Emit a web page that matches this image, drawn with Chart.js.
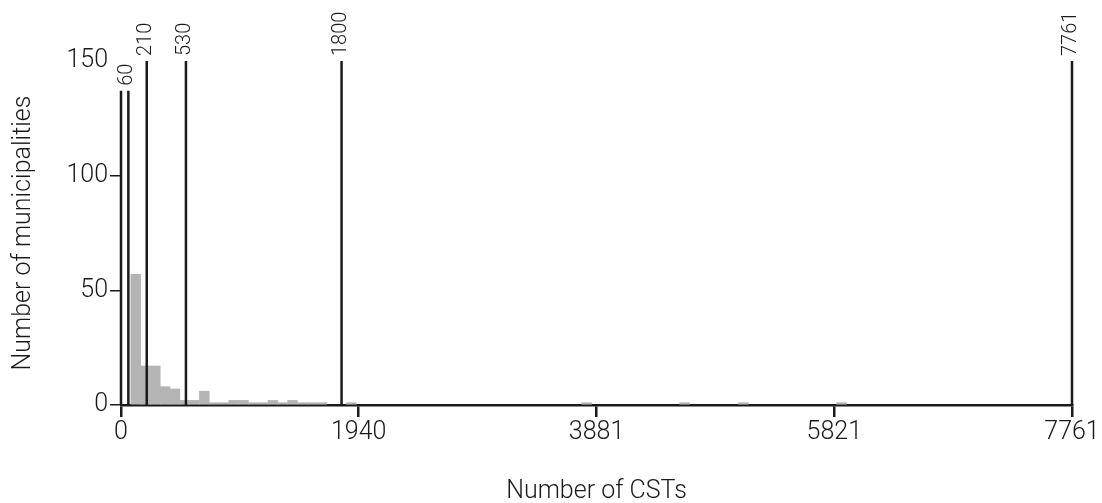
<!DOCTYPE html>
<html>
<head>
<meta charset="utf-8">
<script src="https://cdn.jsdelivr.net/npm/chart.js@4/dist/chart.umd.min.js"></script>
<style>
  body { margin: 0; background: #fff; }
  #wrap { width: 1102px; height: 503px; }
</style>
</head>
<body>
<div id="wrap"><canvas id="c"></canvas></div>
<script>
// histogram bins (left edge of each 80-wide bin) and counts
const binWidth = 80;
const binStarts = [80, 160, 240, 320, 400, 480, 560, 640, 720, 800, 880, 960, 1040, 1120, 1200, 1280, 1360, 1440, 1520, 1600, 1840, 3760, 4560, 5040, 5840];
const binCounts = [57, 17, 17, 8, 7, 2, 2, 6, 1, 1, 2, 2, 1, 1, 2, 1, 2, 1, 1, 1, 1, 1, 1, 1, 1];

// threshold lines
const markerValues = [0, 60, 210, 530, 1800, 7761];
const markerHeights = [137, 137, 150, 150, 150, 150];
const markerLabels = ['', '60', '210', '530', '1800', '7761'];

const xTicks = [0, 1940, 3881, 5821, 7761];
const yTicks = [0, 50, 100, 150];

const ink = '#1a1a1a';
const font = 'Roboto, "Liberation Sans", sans-serif';

const bars = binStarts.map((s, i) => ({ x: s + binWidth / 2, y: binCounts[i] }));

const lineSets = markerValues.map((v, i) => ({
	type: 'line',
	data: [{ x: v, y: 0 }, { x: v, y: markerHeights[i] }],
	borderColor: ink,
	borderWidth: 2.5,
	pointRadius: 0,
	clip: false,
	order: 1,
}));

const markerText = {
	id: 'markerText',
	afterDatasetsDraw(chart) {
		const ctx = chart.ctx, xs = chart.scales.x, ys = chart.scales.y;
		ctx.save();
		ctx.fillStyle = ink;
		ctx.font = `300 20px ${font}`;
		ctx.textAlign = 'left';
		ctx.textBaseline = 'middle';
		markerValues.forEach((v, i) => {
			if (!markerLabels[i]) return;
			const px = xs.getPixelForValue(v);
			const py = ys.getPixelForValue(markerHeights[i]);
			ctx.save();
			ctx.translate(px - 1, py - 5);
			ctx.rotate(-Math.PI / 2);
			ctx.fillText(markerLabels[i], 0, 0);
			ctx.restore();
		});
		ctx.restore();
	}
};

window.onload = function() {
	new Chart(document.getElementById('c'), {
		type: 'bar',
		data: {
			datasets: [{
				type: 'bar',
				data: bars,
				backgroundColor: '#b4b4b4',
				barPercentage: 1,
				categoryPercentage: 1,
				order: 2,
			}].concat(lineSets),
		},
		options: {
			responsive: true,
			maintainAspectRatio: false,
			animation: false,
			layout: { padding: { top: 61, right: 30, left: 0, bottom: 0 } },
			plugins: { legend: { display: false }, tooltip: { enabled: false } },
			scales: {
				x: {
					type: 'linear',
					min: 0,
					max: 7761,
					offset: false,
					afterBuildTicks: s => { s.ticks = xTicks.map(v => ({ value: v })); },
					afterFit: s => { s.height = 98; },
					ticks: {
						color: ink,
						font: { family: font, size: 25, weight: 300 },
						padding: 1,
						maxRotation: 0,
						callback: v => String(v),
					},
					grid: { display: true, offset: false, drawOnChartArea: false, drawTicks: true, tickLength: 12, color: ink, lineWidth: 2.5 },
					border: { display: true, color: ink, width: 2.5 },
					title: {
						display: true,
						text: 'Number of CSTs',
						color: ink,
						font: { family: font, size: 25, weight: 300 },
						padding: { top: 0, bottom: -4 },
					},
				},
				y: {
					min: 0,
					max: 150,
					afterBuildTicks: s => { s.ticks = yTicks.map(v => ({ value: v })); },
					afterFit: s => { s.width = 121; },
					ticks: {
						color: ink,
						font: { family: font, size: 25, weight: 300 },
						padding: 2,
					},
					grid: {
						display: true,
						drawOnChartArea: false,
						drawTicks: true,
						tickLength: 11,
						color: c => (c.tick && c.tick.value === 150 ? 'rgba(0,0,0,0)' : ink),
						lineWidth: 1.5,
					},
					border: { display: false },
					title: {
						display: true,
						text: 'Number of municipalities',
						color: ink,
						font: { family: font, size: 25, weight: 300 },
						padding: { top: 9, bottom: 0 },
					},
				},
			},
		},
		plugins: [markerText],
	});
};
</script>
</body>
</html>
